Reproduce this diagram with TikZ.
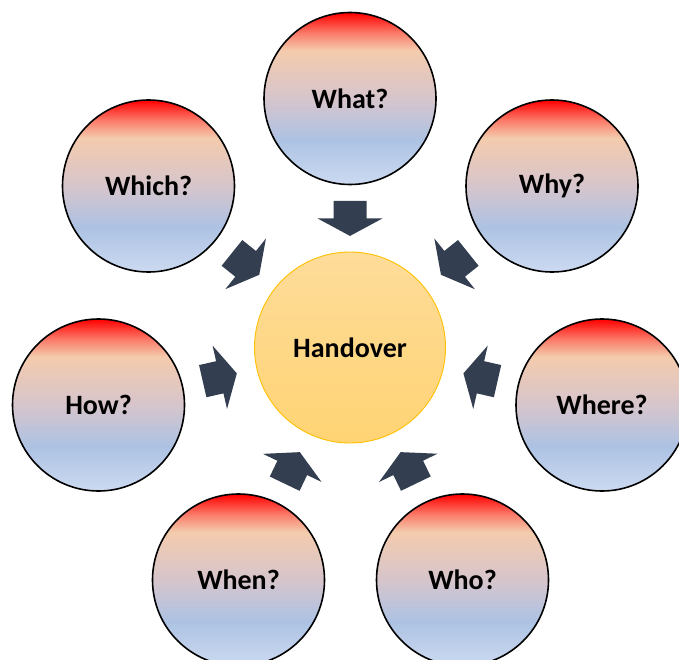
\documentclass[tikz,border=0pt]{standalone}
\usepackage{fontspec}
\setmainfont{Carlito}
\usetikzlibrary{decorations.markings}

\definecolor{qred}{HTML}{FF0000}
\definecolor{qsalmon}{HTML}{FA7C6A}
\definecolor{qpeach}{HTML}{F4CBAD}
\definecolor{qmauve}{HTML}{D6C5CC}
\definecolor{qblue}{HTML}{ADC2E3}
\definecolor{qlight}{HTML}{CCDAF1}
\definecolor{hubtop}{HTML}{FEDC9A}
\definecolor{hubbottom}{HTML}{FFD474}
\definecolor{hubline}{HTML}{FFC000}
\definecolor{slate}{HTML}{333F50}

\pgfdeclareverticalshading{qshade}{100bp}{color(0bp)=(qlight); color(25bp)=(qlight); color(38bp)=(qblue); color(50bp)=(qmauve); color(64bp)=(qpeach); color(69bp)=(qsalmon); color(75bp)=(qred); color(100bp)=(qred)}

\tikzset{
  label font/.style={font=\fontsize{28}{30}\selectfont\bfseries},
  quest/.style={circle, draw=black, line width=1.6pt, minimum size=172pt, inner sep=0pt, shade, shading=qshade, label font},
  hub/.style={circle, draw=hubline, line width=0.9pt, minimum size=191pt, inner sep=0pt, top color=hubtop, bottom color=hubbottom, label font},
  feed/.style={decoration={markings, mark=at position 0.5 with {
      \fill[slate] (-17.5,-16.5) -- (0,-16.5) -- (0,-32.5) -- (17.5,0) -- (0,32.5) -- (0,16.5) -- (-17.5,16.5) -- cycle;}},
    postaction={decorate}}
}

\begin{document}
\begin{tikzpicture}[x=1pt,y=-1pt]
    \useasboundingbox (0,0) rectangle (679,660);
    \clip (0,0) rectangle (679,660);

    % Mitte
    \node[hub] (handover) at (350,347.5) {Handover};

    % Fragen
    \node[quest] (what)  at (350,98.5)  {What?};
    \node[quest] (why)   at (552,186)   {Why?};
    \node[quest] (where) at (602,405)   {Where?};
    \node[quest] (who)   at (462.5,580) {Who?};
    \node[quest] (when)  at (238.5,580) {When?};
    \node[quest] (how)   at (98.5,405)  {How?};
    \node[quest] (which) at (148.5,186) {Which?};

    % Pfeile zur Mitte
    \foreach \q in {what,why,where,who,when,how,which}
        \path[feed] (\q) -- (handover);
\end{tikzpicture}
\end{document}
